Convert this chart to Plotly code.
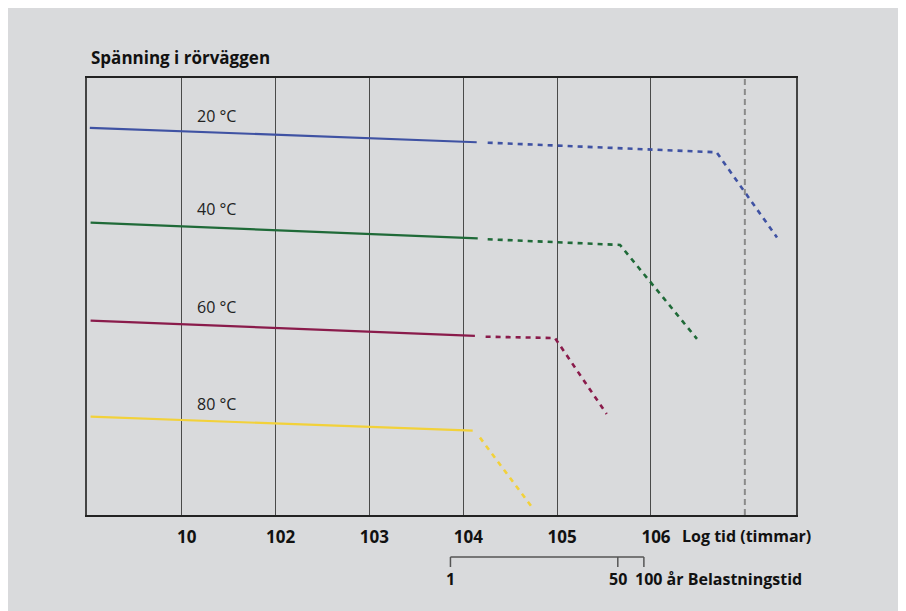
import plotly.graph_objects as go
import math

# ---- data (x in hours, y in relative stress units) ----
tick_hours = [10, 1e2, 1e3, 1e4, 1e5, 1e6]
tick_labels = ["10", "102", "103", "104", "105", "106"]

labels = ["20 °C", "40 °C", "60 °C", "80 °C"]
label_hours = [23.6, 23.6, 23.6, 23.6]
label_stress = [91.4, 70.1, 47.6, 25.3]

solid_hours = {
    "20": [1.05, 13900],
    "40": [1.07, 14250],
    "60": [1.07, 13300],
    "80": [1.07, 12600],
}
solid_stress = {
    "20": [88.6, 85.3],
    "40": [66.9, 63.3],
    "60": [44.5, 41.0],
    "80": [22.5, 19.3],
}
dash_hours = {
    "20": [18200, 5.0e6, 2.2e7],
    "40": [18200, 4.68e5, 3.09e6],
    "60": [17300, 9.48e4, 3.37e5],
    "80": [15060, 5.53e4],
}
dash_stress = {
    "20": [85.2, 83.0, 63.5],
    "40": [63.1, 61.8, 40.3],
    "60": [40.8, 40.5, 23.1],
    "80": [17.7, 1.5],
}
colors = {"20": "#3f52a3", "40": "#1f6a38", "60": "#8a1b4b", "80": "#f2d13a"}

limit_hours = 1e7  # vertical dashed reference
years = [1, 50, 100]
year_tick_hours = [7300, 443000, 840000]  # positions

FONT = "Open Sans"
BG = "#d9dadc"

fig = go.Figure()

for k in ["20", "40", "60", "80"]:
    fig.add_trace(go.Scatter(x=solid_hours[k], y=solid_stress[k], mode="lines",
                             line=dict(color=colors[k], width=2.2), hoverinfo="skip"))
    fig.add_trace(go.Scatter(x=dash_hours[k], y=dash_stress[k], mode="lines",
                             line=dict(color=colors[k], width=2.6, dash="5px,5px"), hoverinfo="skip"))

fig.add_trace(go.Scatter(x=[limit_hours, limit_hours], y=[0, 100], mode="lines",
                         line=dict(color="#8a8a8a", width=2, dash="6px,4px"), hoverinfo="skip"))

for t, h, s in zip(labels, label_hours, label_stress):
    fig.add_annotation(x=math.log10(h), y=s, text=t, showarrow=False,
                       font=dict(family=FONT, size=16, color="#222"),
                       xanchor="center", yanchor="middle")

# title
fig.add_annotation(xref="paper", yref="paper", x=(89 - 87) / 709, y=1 + 20 / 437,
                   text="<b>Spänning i rörväggen</b>", showarrow=False,
                   xanchor="left", yanchor="middle",
                   font=dict(family=FONT, size=17, color="#111"))

# x axis title
fig.add_annotation(x=math.log10(tick_hours[-1]), yref="paper", y=-21 / 437,
                   text="<b>Log tid (timmar)</b>", showarrow=False,
                   xanchor="left", yanchor="middle", xshift=29,
                   font=dict(family=FONT, size=16, color="#111"))

# secondary (years) axis
fig.add_shape(type="line", xref="x", yref="paper", x0=year_tick_hours[0], x1=year_tick_hours[-1],
              y0=-42 / 437, y1=-42 / 437, line=dict(color="#555", width=1.5))
for yh in year_tick_hours:
    fig.add_shape(type="line", xref="x", yref="paper", x0=yh, x1=yh,
                  y0=-42 / 437, y1=-52 / 437, line=dict(color="#555", width=1.5))
for i, (yv, yh) in enumerate(zip(years, year_tick_hours)):
    last = i == len(years) - 1
    txt = f"<b>{yv} år Belastningstid</b>" if last else f"<b>{yv}</b>"
    fig.add_annotation(x=math.log10(yh), yref="paper", y=-64 / 437, text=txt,
                       showarrow=False, xanchor="left" if last else "center",
                       xshift=-11 if last else 0, yanchor="middle",
                       font=dict(family=FONT, size=16, color="#111"))

fig.update_layout(
    width=906, height=611,
    margin=dict(l=79, r=118, t=70, b=104),
    paper_bgcolor=BG, plot_bgcolor=BG,
    showlegend=False,
    font=dict(family=FONT, color="#111"),
    xaxis=dict(type="log", range=[-0.009, 7.545], tickvals=tick_hours, ticktext=tick_labels,
               showgrid=True, gridcolor="#4a4a4a", gridwidth=1, zeroline=False,
               showline=True, linecolor="#222", linewidth=1.5, mirror=True,
               ticks="", ticklabelshift=5, ticklabelstandoff=6,
               tickfont=dict(family=FONT, size=17, color="#111", weight="bold")),
    yaxis=dict(range=[0, 100], showgrid=False, zeroline=False, showticklabels=False,
               showline=True, linecolor="#444", linewidth=2, mirror=True, ticks=""),
)

fig.write_html("out.html")
